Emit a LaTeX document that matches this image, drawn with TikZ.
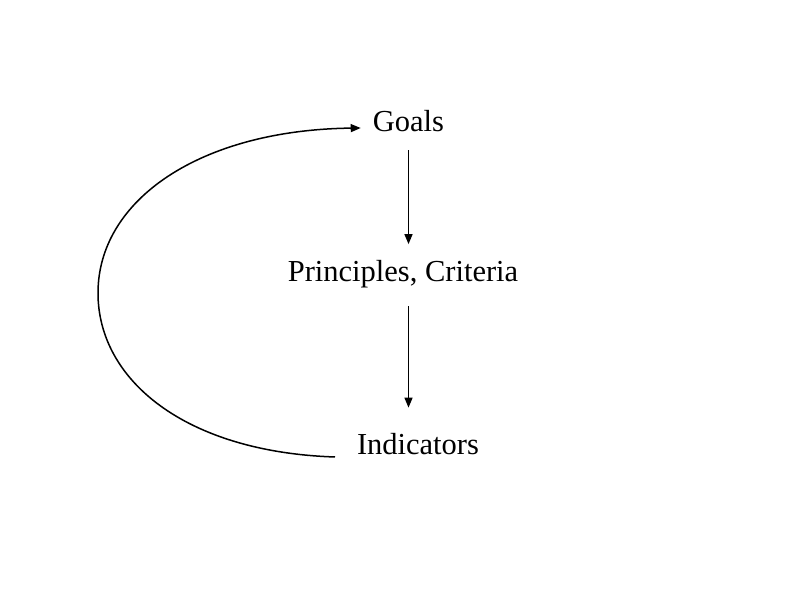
\documentclass[tikz,border=0pt]{standalone}
\usepackage{fontspec}
\setmainfont{Liberation Serif}
\usetikzlibrary{arrows.meta}
\begin{document}
\begin{tikzpicture}[x=1pt,y=1pt,
  lbl/.style={inner sep=0pt,anchor=base,font=\fontsize{30.5}{36}\selectfont},
  arr/.style={line width=1.5pt,-{Triangle[length=10pt,width=8pt]}}]
\useasboundingbox (0,0) rectangle (792,612);
\node[lbl] (goals) at (408.5,480) {Goals};
\node[lbl] (princ) at (403,330) {Principles, Criteria};
\node[lbl] (ind) at (418,157) {Indicators};
\coordinate (tail) at (335,155);
\draw[arr,shorten <=18pt,shorten >=16.5pt] (goals.south) -- (goals.south |- princ.north);
\draw[arr,shorten <=17.5pt,shorten >=26pt] (princ.south -| goals.south) -- (ind.north -| goals.south);
\draw[arr] (tail) .. controls (185,160) and (98,232) .. (98,319)
  .. controls (98,412) and (200,482) .. ([xshift=-12pt,yshift=4pt]goals.base west);
\end{tikzpicture}
\end{document}
